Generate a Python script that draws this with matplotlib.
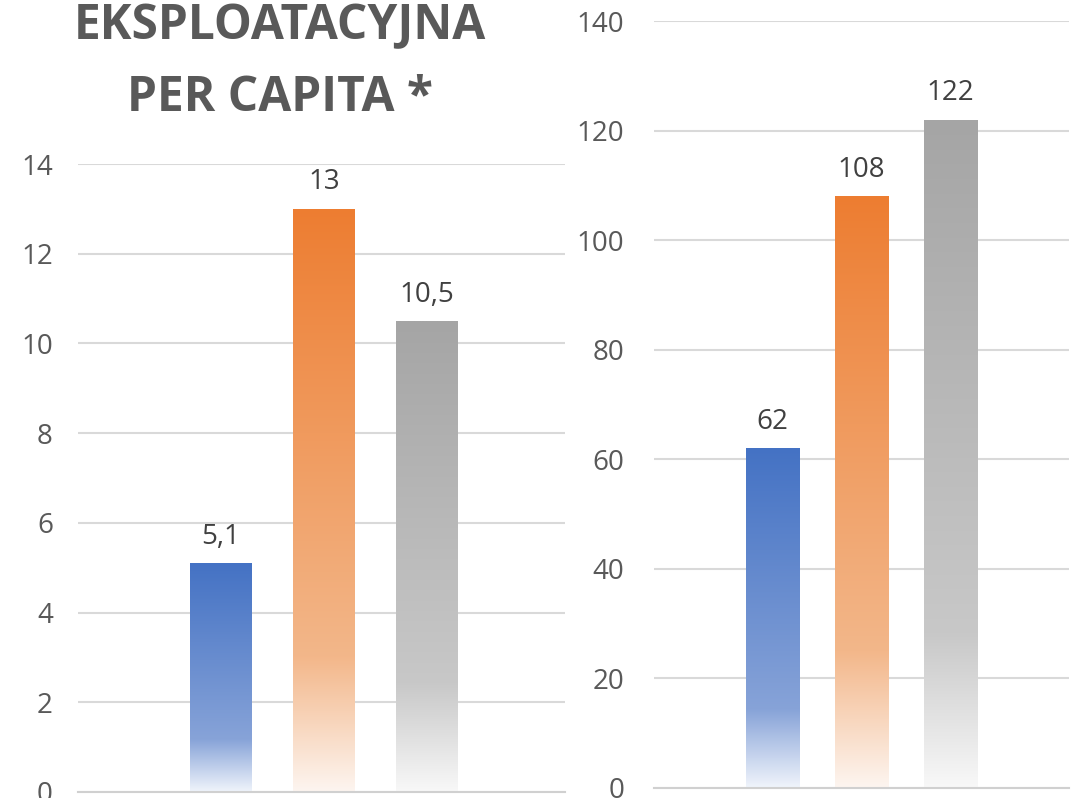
import matplotlib
matplotlib.use("Agg")
import matplotlib.pyplot as plt
import numpy as np
from matplotlib.colors import LinearSegmentedColormap

# data
categories = ["A", "B", "C"]
left_values = [5.1, 13, 10.5]
left_labels = ["5,1", "13", "10,5"]
right_values = [62, 108, 122]
right_labels = ["62", "108", "122"]

title_lines = ["EKSPLOATACYJNA", "PER CAPITA *"]

# gradient stops per bar colour: (position from bottom, colour)
gradients = [
    [(0.0, "#f0f4fb"), (0.23, "#87a3d8"), (1.0, "#4472c4")],
    [(0.0, "#fdf5f0"), (0.23, "#f3b78a"), (1.0, "#ed7d31")],
    [(0.0, "#f8f8f8"), (0.23, "#c8c8c8"), (1.0, "#a5a5a5")],
]

plt.rcParams["font.family"] = ["Open Sans", "DejaVu Sans"]

fig = plt.figure(figsize=(10.77, 7.98), dpi=100)
ax1 = fig.add_axes([78 / 1077, 6 / 798, 487 / 1077, 628 / 798])
ax2 = fig.add_axes([654 / 1077, 10 / 798, 415 / 1077, 767 / 798])


def draw_panel(ax, values, labels, ymax, step, xlim, pad):
    x = np.arange(len(values))
    bars = ax.bar(x, values, width=0.6, color="none", zorder=2)
    grad = np.linspace(0, 1, 256).reshape(-1, 1)
    for bar, stops in zip(bars, gradients):
        cmap = LinearSegmentedColormap.from_list("g", stops)
        x0 = bar.get_x()
        im = ax.imshow(grad, cmap=cmap, origin="lower", aspect="auto",
                       extent=[x0, x0 + bar.get_width(), 0, bar.get_height()],
                       zorder=2, interpolation="bilinear")
        im.set_clip_path(bar)
    for bar, lab in zip(bars, labels):
        ax.annotate(lab, (bar.get_x() + bar.get_width() / 2, bar.get_height()),
                    xytext=(0, 14), textcoords="offset points",
                    ha="center", va="baseline", fontsize=20, color="#404040")
    ax.set_xlim(*xlim)
    ax.set_ylim(0, ymax)
    ax.set_yticks(np.arange(0, ymax + step / 2, step))
    ax.set_xticks([])
    ax.grid(axis="y", color="#d9d9d9", linewidth=1.5)
    ax.set_axisbelow(True)
    for s in ["top", "right", "left"]:
        ax.spines[s].set_visible(False)
    ax.spines["bottom"].set_color("#d0d0d0")
    ax.spines["bottom"].set_linewidth(1.5)
    ax.tick_params(axis="y", length=0, pad=pad, labelsize=20, labelcolor="#595959")
    for lab in ax.get_yticklabels():
        lab.set_clip_on(False)


draw_panel(ax1, left_values, left_labels, 14, 2, (-1.39, 3.34), 18)
draw_panel(ax2, right_values, right_labels, 140, 20, (-1.33, 3.33), 21.5)

fig.text(280 / 1077, 1 - 39 / 798, title_lines[0], ha="center", va="baseline",
         fontsize=34.5, fontweight="bold", color="#595959")
fig.text(280 / 1077, 1 - 111 / 798, title_lines[1], ha="center", va="baseline",
         fontsize=34.5, fontweight="bold", color="#595959")

fig.savefig("out.png", dpi=100)
